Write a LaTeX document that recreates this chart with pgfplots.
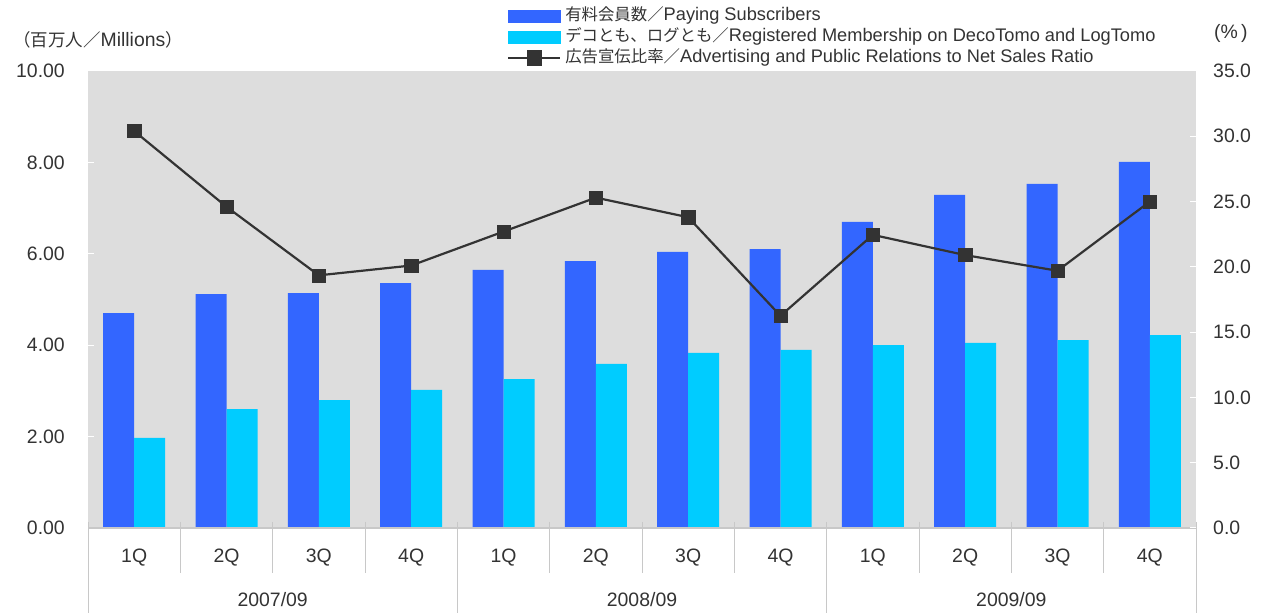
\documentclass[border=0pt]{standalone}
\usepackage{fontspec}
\setmainfont{Liberation Sans}
\newfontfamily\cjk{Noto Sans CJK JP}[Scale=0.9]
\usepackage{pgfplots}
\pgfplotsset{compat=1.18}
\definecolor{cblue}{HTML}{3366FF}
\definecolor{ccyan}{HTML}{00CCFF}
\definecolor{cbg}{HTML}{DDDDDD}
\definecolor{ctxt}{HTML}{333333}
\definecolor{csep}{HTML}{C8C8C8}
\begin{document}
\begin{tikzpicture}[x=1bp,y=1bp]
\useasboundingbox (0,0) rectangle (1274,613);
\begin{axis}[
  at={(88bp,85bp)}, anchor=south west,
  scale only axis, width=1108bp, height=457bp,
  xmin=-0.5, xmax=11.5, ymin=0, ymax=10,
  clip=false,
  axis background/.style={fill=cbg},
  axis line style={draw=none},
  /pgf/number format/assume math mode=true,
  ytick={0,2,4,6,8,10},
  ytick pos=left,
  tick align=inside,
  major tick length=6bp,
  ytick style={draw=white, line width=1bp},
  yticklabel style={font=\fontsize{19.5}{22}\selectfont, text=ctxt, anchor=east, inner sep=0pt, xshift=-23bp,
    /pgf/number format/fixed, /pgf/number format/fixed zerofill, /pgf/number format/precision=2},
  xtick={0,1,2,3,4,5,6,7,8,9,10,11},
  xticklabels={1Q,2Q,3Q,4Q,1Q,2Q,3Q,4Q,1Q,2Q,3Q,4Q},
  xtick style={draw=none},
  xticklabel style={font=\fontsize{19.5}{22}\selectfont, text=ctxt, anchor=center, inner sep=0pt, yshift=-30bp},
]
\addplot[ybar, bar width=31bp, bar shift=-15.5bp, fill=cblue, draw=none] coordinates {
  (0,4.70) (1,5.12) (2,5.14) (3,5.36) (4,5.65) (5,5.84) (6,6.04) (7,6.10) (8,6.70) (9,7.29) (10,7.53) (11,8.01)};
\addplot[ybar, bar width=31bp, bar shift=15.5bp, fill=ccyan, draw=none] coordinates {
  (0,1.97) (1,2.60) (2,2.80) (3,3.02) (4,3.26) (5,3.59) (6,3.83) (7,3.90) (8,4.00) (9,4.05) (10,4.11) (11,4.22)};
\draw[csep, line width=1.2bp] (rel axis cs:0,0) -- (rel axis cs:1,0);
\pgfplotsinvokeforeach{0.5,1.5,2.5,4.5,5.5,6.5,8.5,9.5,10.5}{
  \draw[csep, line width=1bp] ([yshift=6bp]axis cs:#1,0) -- ([yshift=-45bp]axis cs:#1,0);
}
\pgfplotsinvokeforeach{-0.5,3.5,7.5,11.5}{
  \draw[csep, line width=1bp] ([yshift=6bp]axis cs:#1,0) -- ([yshift=-95bp]axis cs:#1,0);
}
\node[text=ctxt, font=\fontsize{19.5}{22}\selectfont] at ([yshift=-72bp]axis cs:1.5,0) {2007/09};
\node[text=ctxt, font=\fontsize{19.5}{22}\selectfont] at ([yshift=-72bp]axis cs:5.5,0) {2008/09};
\node[text=ctxt, font=\fontsize{19.5}{22}\selectfont] at ([yshift=-72bp]axis cs:9.5,0) {2009/09};
\end{axis}
\begin{axis}[
  at={(88bp,85bp)}, anchor=south west,
  scale only axis, width=1108bp, height=457bp,
  xmin=-0.5, xmax=11.5, ymin=0, ymax=35,
  clip=false,
  hide x axis,
  axis line style={draw=none},
  /pgf/number format/assume math mode=true,
  ytick={0,5,10,15,20,25,30,35},
  ytick pos=right,
  tick align=inside,
  major tick length=6bp,
  ytick style={draw=white, line width=1bp},
  yticklabel style={font=\fontsize{19.5}{22}\selectfont, text=ctxt, anchor=west, inner sep=0pt, xshift=17bp,
    /pgf/number format/fixed, /pgf/number format/fixed zerofill, /pgf/number format/precision=1},
  legend style={at={(0.3782,1.1433)}, anchor=north west, draw=none, fill=none,
    inner sep=0pt, outer sep=0pt, row sep=0pt, column sep=2.5bp,
    font=\fontsize{18.3}{21}\selectfont, text=ctxt,
    nodes={inner sep=1.5bp, text height=14bp, text depth=4bp}},
  legend cell align=left,
]
\addlegendimage{legend image code/.code={\fill[cblue] (0bp,-6bp) rectangle (52bp,6bp);}}
\addlegendentry{{\cjk 有料会員数／}Paying Subscribers}
\addlegendimage{legend image code/.code={\fill[ccyan] (0bp,-6bp) rectangle (52bp,6bp);}}
\addlegendentry{{\cjk デコとも、ログとも／}Registered Membership on DecoTomo and LogTomo}
\addplot[ctxt, line width=2.2bp, mark=square*, mark size=6.6bp, mark options={fill=ctxt, draw=ctxt, line width=0.4bp},
  legend image code/.code={\draw[ctxt,line width=2.2bp] (0bp,0bp)--(52bp,0bp); \fill[ctxt] (19.5bp,-6.5bp) rectangle (32.5bp,6.5bp);}]
  coordinates {
  (0,30.4) (1,24.6) (2,19.35) (3,20.1) (4,22.7) (5,25.3) (6,23.8) (7,16.25) (8,22.45) (9,20.9) (10,19.7) (11,25.0)};
\addlegendentry{{\cjk 広告宣伝比率／}Advertising and Public Relations to Net Sales Ratio}
\end{axis}
\node[anchor=west, text=ctxt, inner sep=0pt, font=\fontsize{19.5}{22}\selectfont] at (13,573) {{\cjk （百万人／}Millions{\cjk ）}};
\node[anchor=west, text=ctxt, inner sep=0pt, font=\fontsize{19.5}{22}\selectfont] at (1214,580) {(\%\,)};
\end{tikzpicture}
\end{document}
